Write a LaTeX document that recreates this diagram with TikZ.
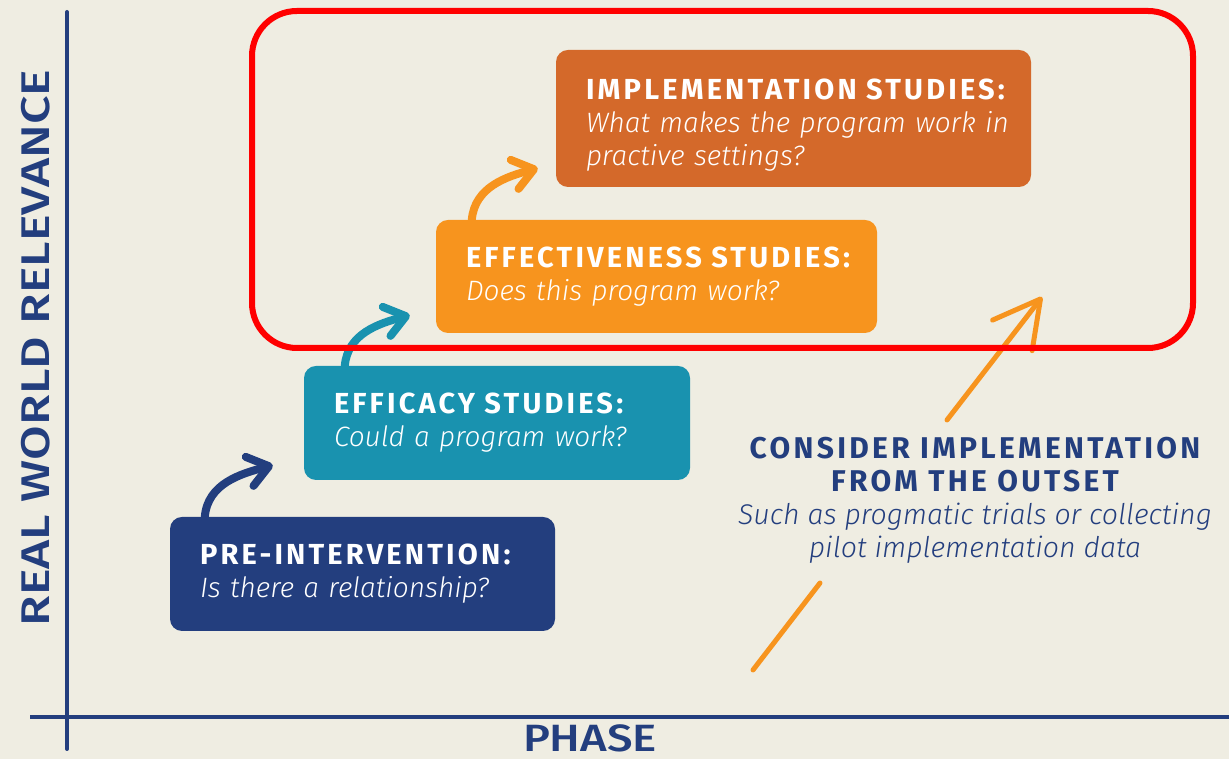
\documentclass[tikz,border=0pt]{standalone}
\usepackage{fontspec}
\usepackage{graphicx}
\usetikzlibrary{arrows.meta,calc}
\setmainfont{Fira Sans}
\IfFontExistsTF{FiraSans-SemiBold.otf}
  {\newfontfamily\headfont[LetterSpace=11]{FiraSans-SemiBold.otf}}
  {\newfontfamily\headfontbase[LetterSpace=11]{Fira Sans}\def\headfont{\headfontbase\bfseries}}
\IfFontExistsTF{Fira Sans Medium}
  {\newfontfamily\axfont{Fira Sans Medium}}
  {\IfFontExistsTF{FiraSans-Medium.otf}
     {\newfontfamily\axfont{FiraSans-Medium.otf}}
     {\newfontfamily\axfontbase{Fira Sans}\def\axfont{\axfontbase\bfseries}}}
\IfFontExistsTF{FiraSans-LightItalic.otf}
  {\newfontfamily\itfont{FiraSans-LightItalic.otf}}
  {\IfFontExistsTF{Fira Sans Light Italic}
     {\newfontfamily\itfont{Fira Sans Light Italic}}
     {\newfontfamily\itfontbase{Fira Sans}\def\itfont{\itfontbase\itshape}}}
\definecolor{bg}{HTML}{EFEDE2}
\definecolor{navy}{HTML}{233E7E}
\definecolor{teal}{HTML}{1992AF}
\definecolor{orng}{HTML}{F7941E}
\definecolor{rust}{HTML}{D4692A}
\definecolor{redline}{HTML}{FF0000}
\begin{document}
\begin{tikzpicture}[x=1pt,y=1pt,
  box/.style={rectangle, rounded corners=12pt, inner xsep=30pt, inner ysep=0pt, align=left, text=white,
    font={\fontsize{28}{33}\selectfont}},
  curvarr/.style={line width=8pt, line cap=round, -{Straight Barb[length=20pt,width=30pt,round]}},
  axis/.style={draw=navy, line width=4pt, line cap=round}]
\fill[bg] (0,0) rectangle (1229,759);
\useasboundingbox (0,0) rectangle (1229,759);

% axes
\coordinate (ytop) at (67,747);
\coordinate (ybot) at (67,10);
\coordinate (xl) at (30,42);
\coordinate (xr) at (1229,42);
\draw[axis] (ybot) -- (ytop);
\draw[axis, line cap=butt] (xl) -- (xr);
\node[rotate=90, text=navy, inner sep=0pt] (ylab) at (36,411)
  {\resizebox{557pt}{\height}{\axfont\fontsize{40}{40}\selectfont REAL WORLD RELEVANCE}};
\node[text=navy, inner sep=0pt] (xlab) at (590,21)
  {\resizebox{134pt}{\height}{\axfont\fontsize{38}{38}\selectfont PHASE}};

% boxes
\node[box, fill=navy, minimum width=385pt, minimum height=114pt, text width=325pt] (pre) at (362.5,185)
  {{\headfont\fontsize{29}{33}\selectfont PRE-INTERVENTION:}\\{\itfont Is there a relationship?}};
\node[box, fill=teal, minimum width=386pt, minimum height=114pt, text width=326pt] (eff) at (497,336)
  {{\headfont\fontsize{29}{33}\selectfont EFFICACY STUDIES:}\\{\itfont Could a program work?}};
\node[box, fill=orng, minimum width=441pt, minimum height=113pt, text width=381pt] (effv) at (656.5,482.5)
  {{\headfont\fontsize{29}{33}\selectfont EFFECTIVENESS STUDIES:}\\{\itfont Does this program work?}};
\node[box, fill=rust, minimum width=475pt, minimum height=137pt, text width=415pt] (impl) at (793.5,640.5)
  {\mbox{\rule{0pt}{33pt}\headfont\fontsize{29}{33}\selectfont IMPLEMENTATION STUDIES:}\\\mbox{\itfont What makes the program work in}\\\mbox{\itfont practive settings?}};

% curved arrows
\draw[curvarr, draw=navy] ($(pre.north west)+(35,0)$) to[out=85,in=195] ($(eff.south west)+(-31,15)$);
\draw[curvarr, draw=teal] ($(eff.north west)+(41,0)$) to[out=85,in=195] ($(effv.south west)+(-26,18)$);
\draw[curvarr, draw=orng] ($(effv.north west)+(36,0)$) to[out=85,in=195] ($(impl.south west)+(-18,19)$);

% consider text
\node[text=navy, align=center, inner sep=0pt, font={\fontsize{28.5}{33}\selectfont}] (cons) at (975,259)
  {{\headfont\fontsize{30}{33}\selectfont CONSIDER IMPLEMENTATION}\\{\headfont\fontsize{30}{33}\selectfont FROM THE OUTSET}\\{\itfont Such as progmatic trials or collecting}\\{\itfont pilot implementation data}};

\coordinate (l1) at (753,89);
\coordinate (l2) at (820,176);
\coordinate (u1) at (947,339);
\coordinate (u2) at (1042,462);
\draw[draw=orng, line width=5pt, line cap=round] (l1) -- (l2);
\draw[draw=orng, line width=5pt, line cap=round, -{Straight Barb[length=46pt,width=50pt,round]}] (u1) -- (u2);

% focus frame
\node[draw=redline, line width=6pt, rounded corners=45pt, minimum width=941pt, minimum height=337pt, inner sep=0pt] (focus) at (722.5,579.5) {};
\end{tikzpicture}
\end{document}
